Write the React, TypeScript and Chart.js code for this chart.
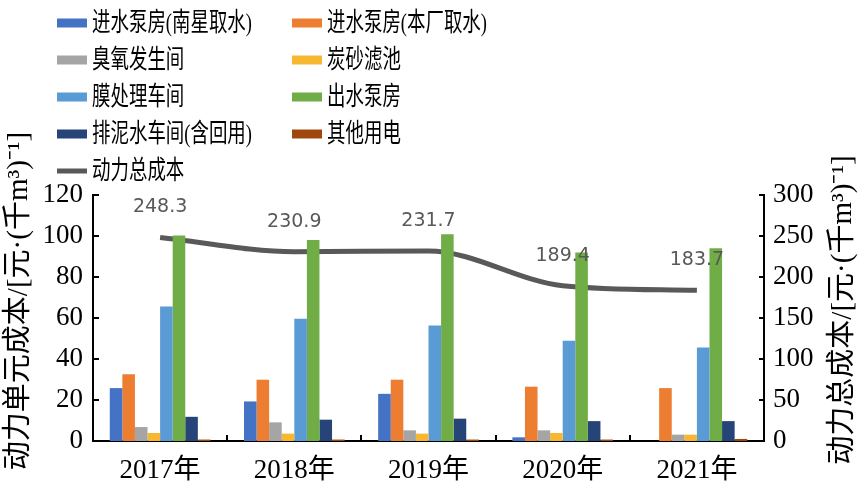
import React, { useEffect, useRef } from "react";
import { Chart, registerables } from "chart.js";

Chart.register(...registerables);

// ---- data ----
const categories = ["2017年", "2018年", "2019年", "2020年", "2021年"];
const seriesNames = [
  "进水泵房(南星取水)",
  "进水泵房(本厂取水)",
  "臭氧发生间",
  "炭砂滤池",
  "膜处理车间",
  "出水泵房",
  "排泥水车间(含回用)",
  "其他用电",
];
const totalName = "动力总成本";
const nanxingIntake = [25.8, 19.3, 23.0, 1.8, 0];
const plantIntake = [32.6, 29.9, 29.9, 26.5, 25.8];
const ozoneRoom = [6.8, 9.1, 5.2, 5.2, 3.1];
const carbonSandFilter = [3.9, 3.6, 3.6, 3.9, 3.1];
const membraneRoom = [65.6, 59.6, 56.3, 48.9, 45.6];
const outletPump = [100.2, 98.1, 100.8, 91.9, 94.0];
const sludgeRoom = [11.8, 10.4, 10.9, 9.7, 9.7];
const otherPower = [0.7, 0.7, 0.7, 0.7, 1.0];
const totalCost = [248.3, 230.9, 231.7, 189.4, 183.7];

const leftAxis = { min: 0, max: 120, step: 20 };
const rightAxis = { min: 0, max: 300, step: 50 };
const leftTitle = "动力单元成本/[元·(千m³)⁻¹]";
const rightTitle = "动力总成本/[元·(千m³)⁻¹]";

const barColors = [
  "#4472C4",
  "#ED7D31",
  "#A5A5A5",
  "#F7B731",
  "#5B9BD5",
  "#70AD47",
  "#264478",
  "#9E480E",
];
const lineColor = "#595959";

const serifCjk = '"Liberation Serif", "Noto Sans CJK SC"';

const decorPlugin = {
  id: "decor",
  afterDatasetsDraw(chart: any) {
    const ctx = chart.ctx as CanvasRenderingContext2D;
    const area = chart.chartArea;
    const x = chart.scales.x;
    const y = chart.scales.y;
    const y1 = chart.scales.y1;
    ctx.save();
    // inward tick marks
    ctx.strokeStyle = "#000";
    ctx.lineWidth = 2;
    ctx.beginPath();
    y.ticks.forEach((t: any) => {
      const py = Math.round(y.getPixelForValue(t.value));
      ctx.moveTo(area.left, py);
      ctx.lineTo(area.left + 6, py);
    });
    y1.ticks.forEach((t: any) => {
      const py = Math.round(y1.getPixelForValue(t.value));
      ctx.moveTo(area.right, py);
      ctx.lineTo(area.right - 5, py);
    });
    for (let i = 0; i < categories.length - 1; i++) {
      const px = Math.round((x.getPixelForValue(i) + x.getPixelForValue(i + 1)) / 2);
      ctx.moveTo(px, area.bottom);
      ctx.lineTo(px, area.bottom - 6);
    }
    ctx.stroke();

    // data labels for the total cost line
    const lineIndex = chart.data.datasets.length - 1;
    const meta = chart.getDatasetMeta(lineIndex);
    ctx.fillStyle = lineColor;
    ctx.font = '19px "DejaVu Sans"';
    ctx.textAlign = "center";
    ctx.textBaseline = "middle";
    meta.data.forEach((pt: any, i: number) => {
      ctx.fillText(totalCost[i].toFixed(1), pt.x, pt.y - 30);
    });
    ctx.restore();
  },
  afterDraw(chart: any) {
    const ctx = chart.ctx as CanvasRenderingContext2D;
    ctx.save();
    // two-column legend
    chart.data.datasets.forEach((ds: any, i: number) => {
      const col = i % 2;
      const row = Math.floor(i / 2);
      const sx = col === 0 ? 57 : 292;
      const sy = 23 + row * 37;
      if (ds.type === "line") {
        ctx.fillStyle = ds.borderColor;
        ctx.fillRect(sx, sy - 2.5, 30, 5);
      } else {
        ctx.fillStyle = ds.backgroundColor;
        ctx.fillRect(sx, sy - 4.5, 30, 9);
      }
      ctx.save();
      ctx.translate(sx + 35, sy + 1);
      ctx.scale(0.71, 1);
      ctx.font = "26px " + serifCjk;
      ctx.fillStyle = "#000";
      ctx.textAlign = "left";
      ctx.textBaseline = "middle";
      ctx.fillText(ds.label, 0, 0);
      ctx.restore();
    });
    // axis titles (both read bottom-to-top)
    ctx.fillStyle = "#000";
    ctx.font = "29px " + serifCjk;
    ctx.textAlign = "center";
    ctx.textBaseline = "middle";
    ctx.save();
    ctx.translate(19, 301);
    ctx.rotate(-Math.PI / 2);
    ctx.fillText(leftTitle, 0, 0);
    ctx.restore();
    ctx.save();
    ctx.translate(843, 310);
    ctx.rotate(-Math.PI / 2);
    ctx.fillText(rightTitle, 0, 0);
    ctx.restore();
    ctx.restore();
  },
};

export default function App() {
  const canvasRef = useRef<HTMLCanvasElement | null>(null);

  useEffect(() => {
    const canvas = canvasRef.current;
    if (!canvas) return;
    const barSeries = [
      nanxingIntake,
      plantIntake,
      ozoneRoom,
      carbonSandFilter,
      membraneRoom,
      outletPump,
      sludgeRoom,
      otherPower,
    ];
    const datasets: any[] = barSeries.map((values, i) => ({
      type: "bar",
      label: seriesNames[i],
      data: values,
      backgroundColor: barColors[i],
      borderWidth: 0,
      yAxisID: "y",
      order: 0,
      categoryPercentage: 0.75,
      barPercentage: 1,
    }));
    datasets.push({
      type: "line",
      label: totalName,
      data: totalCost,
      borderColor: lineColor,
      backgroundColor: lineColor,
      borderWidth: 5,
      pointRadius: 0,
      cubicInterpolationMode: "monotone",
      yAxisID: "y1",
      order: 1,
    });

    const tickFont = { family: serifCjk, size: 27 };
    const chart = new Chart(canvas, {
      type: "bar",
      data: { labels: categories, datasets },
      options: {
        responsive: false,
        animation: false,
        events: [],
        layout: { padding: { top: 195, left: 0, right: 0, bottom: 0 } },
        plugins: {
          legend: { display: false },
          tooltip: { enabled: false },
          title: { display: false },
        },
        scales: {
          x: {
            type: "category",
            offset: true,
            grid: { display: false, drawTicks: false },
            border: { display: true, color: "#000", width: 2 },
            ticks: { color: "#000", font: tickFont, padding: 14, maxRotation: 0 },
            afterFit: (s: any) => {
              s.height = 48;
            },
          },
          y: {
            position: "left",
            min: leftAxis.min,
            max: leftAxis.max,
            grid: { display: false, drawTicks: false },
            border: { display: true, color: "#000", width: 2 },
            ticks: { stepSize: leftAxis.step, color: "#000", font: tickFont, padding: 10 },
            afterFit: (s: any) => {
              s.width = 93;
            },
          },
          y1: {
            position: "right",
            min: rightAxis.min,
            max: rightAxis.max,
            grid: { display: false, drawTicks: false },
            border: { display: true, color: "#000", width: 2 },
            ticks: { stepSize: rightAxis.step, color: "#000", font: tickFont, padding: 9 },
            afterFit: (s: any) => {
              s.width = 101;
            },
          },
        },
      } as any,
      plugins: [decorPlugin],
    });
    return () => chart.destroy();
  }, []);

  return (
    <div style={{ position: "absolute", left: 0, top: 0, width: 865, height: 489, background: "#fff" }}>
      <canvas ref={canvasRef} width={865} height={489} />
    </div>
  );
}
